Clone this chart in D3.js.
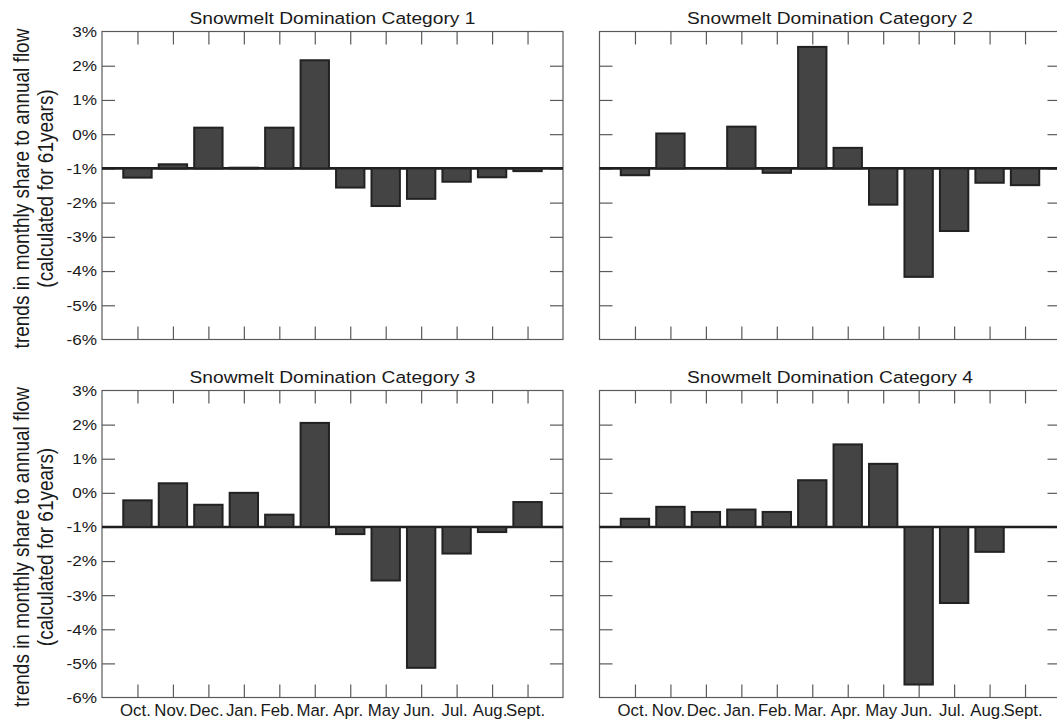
<!DOCTYPE html>
<html>
<head>
<meta charset="utf-8">
<script src="https://cdn.jsdelivr.net/npm/d3@7"></script>
<style>
  html, body { margin: 0; padding: 0; background: #fff; overflow: hidden; }
  svg { display: block; font-family: "Liberation Sans", Arial, Helvetica, sans-serif; }
</style>
</head>
<body>
<svg id="chart" width="1057" height="719"></svg>
<script>
// Monthly trend values (% share of annual flow), water year order
const months = ["Oct.", "Nov.", "Dec.", "Jan.", "Feb.", "Mar.", "Apr.", "May", "Jun.", "Jul.", "Aug.", "Sept."];
const category1 = [-1.27, -0.88, 0.19, -0.98, 0.19, 2.16, -1.56, -2.10, -1.89, -1.39, -1.26, -1.08];
const category2 = [-1.20, 0.02, -1.00, 0.22, -1.13, 2.55, -0.40, -2.06, -4.17, -2.83, -1.42, -1.49];
const category3 = [-0.22, 0.28, -0.35, 0.00, -0.64, 2.05, -1.21, -2.57, -5.13, -1.78, -1.15, -0.27];
const category4 = [-0.76, -0.41, -0.56, -0.49, -0.56, 0.37, 1.42, 0.85, -5.62, -3.23, -1.73, -1.00];
const titles = ["Snowmelt Domination Category 1", "Snowmelt Domination Category 2",
                "Snowmelt Domination Category 3", "Snowmelt Domination Category 4"];
const yTicks = [3, 2, 1, 0, -1, -2, -3, -4, -5, -6];
const baseValue = -1;
const yLabelLines = ["trends in monthly share to annual flow", "(calculated for 61years)"];

const series = [category1, category2, category3, category4];

const svg = d3.select("#chart");

const plotW = 461;
const panels = [
  { left: 102,   top: 31.5,  h: 308, yLabels: true,  xLabels: false },
  { left: 599.5, top: 31.5,  h: 308, yLabels: false, xLabels: false },
  { left: 102,   top: 390.5, h: 307, yLabels: true,  xLabels: true },
  { left: 599.5, top: 390.5, h: 307, yLabels: false, xLabels: true }
];

const tickLen = 13;
const frameColor = "#5a5a5a";
const textColor = "#1a1a1a";
const wide = 1.13;   // horizontal widening of the lettering

panels.forEach((p, i) => {
  const values = series[i];
  const x = d3.scaleLinear().domain([0, months.length + 1]).range([p.left, p.left + plotW]);
  const y = d3.scaleLinear().domain([-6, 3]).range([p.top + p.h, p.top]);
  const step = x(1) - x(0);
  const barW = step * 0.8;

  const g = svg.append("g");

  // frame
  g.append("rect")
    .attr("x", x(0)).attr("y", y(3))
    .attr("width", plotW).attr("height", p.h)
    .attr("fill", "none").attr("stroke", frameColor).attr("stroke-width", 1.2);

  const monthPos = months.map((m, k) => k + 1);
  const innerY = yTicks.filter(v => v > -6 && v < 3);

  // inward ticks, all four sides
  const bottomAxis = d3.axisBottom(x).tickValues(monthPos).tickSize(-tickLen).tickFormat("");
  const topAxis = d3.axisTop(x).tickValues(monthPos).tickSize(-tickLen).tickFormat("");
  const leftAxis = d3.axisLeft(y).tickValues(innerY).tickSize(-tickLen).tickFormat("");
  const rightAxis = d3.axisRight(y).tickValues(innerY).tickSize(-tickLen).tickFormat("");

  [[bottomAxis, `translate(0,${y(-6)})`], [topAxis, `translate(0,${y(3)})`],
   [leftAxis, `translate(${x(0)},0)`], [rightAxis, `translate(${x(months.length + 1)},0)`]]
    .forEach(([ax, tr]) => {
      const a = g.append("g").attr("transform", tr).call(ax);
      a.select(".domain").remove();
      a.selectAll(".tick line").attr("stroke", frameColor).attr("stroke-width", 1.2);
    });

  // y tick labels
  if (p.yLabels) {
    g.selectAll("text.ylab").data(yTicks).enter().append("text")
      .attr("class", "ylab")
      .attr("transform", d => `translate(${x(0) - 5},${y(d)}) scale(1.16,1)`)
      .attr("dy", "0.36em")
      .attr("text-anchor", "end")
      .attr("font-size", 14.8)
      .attr("fill", textColor)
      .text(d => d + "%");

    const cy = p.top + p.h / 2 + 3;
    yLabelLines.forEach((line, li) => {
      svg.append("text")
        .attr("transform", `translate(${29 + li * 23.5},${cy}) scale(1.2,1) rotate(-90)`)
        .attr("text-anchor", "middle")
        .attr("font-size", 19)
        .attr("fill", textColor)
        .text(line);
    });
  }

  // month labels
  if (p.xLabels) {
    g.selectAll("text.xlab").data(months).enter().append("text")
      .attr("class", "xlab")
      .attr("x", (d, k) => x(k + 1) - 2)
      .attr("y", p.top + p.h + 18)
      .attr("text-anchor", "middle")
      .attr("font-size", 16.8)
      .attr("fill", textColor)
      .text(d => d);
  }

  // baseline at -1%
  g.append("line")
    .attr("x1", x(0)).attr("x2", x(months.length + 1))
    .attr("y1", y(baseValue)).attr("y2", y(baseValue))
    .attr("stroke", "#1e1e1e").attr("stroke-width", 2.6);

  // bars measured from the -1% baseline
  g.selectAll("rect.bar").data(values).enter().append("rect")
    .attr("class", "bar")
    .attr("x", (d, k) => x(k + 1) - barW / 2)
    .attr("y", d => y(Math.max(d, baseValue)))
    .attr("width", barW)
    .attr("height", d => Math.abs(y(d) - y(baseValue)))
    .attr("fill", "#444")
    .attr("stroke", "#222")
    .attr("stroke-width", 2);

  // title
  svg.append("text")
    .attr("transform", `translate(${x(0) + plotW / 2},${p.top - 8}) scale(${wide},1)`)
    .attr("text-anchor", "middle")
    .attr("font-size", 17)
    .attr("fill", textColor)
    .text(titles[i]);
});
</script>
</body>
</html>
